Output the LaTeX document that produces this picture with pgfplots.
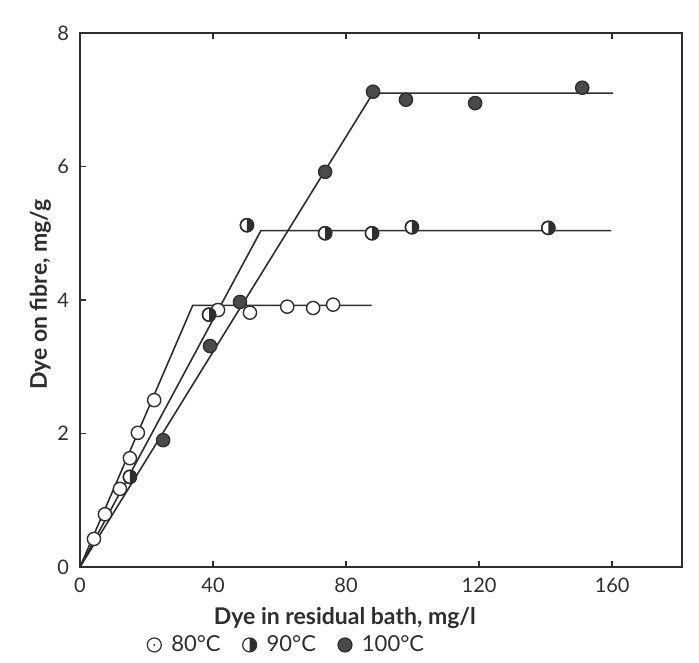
\documentclass[border=0pt]{standalone}
\usepackage{fontspec}
\setmainfont{Lato}
\usepackage{pgfplots}
\pgfplotsset{compat=1.18}
\definecolor{ink}{HTML}{2E2E2E}
\definecolor{dark}{HTML}{4A4A4A}
\pgfdeclareplotmark{halfright}{%
  \pgfpathmoveto{\pgfqpoint{0pt}{\pgfplotmarksize}}%
  \pgfpatharc{90}{-90}{\pgfplotmarksize}%
  \pgfpathclose
  \pgfusepathqfill
  \pgfpathcircle{\pgfpointorigin}{\pgfplotmarksize}%
  \pgfusepathqstroke
}
\pgfdeclareplotmark{odot}{%
  \pgfpathcircle{\pgfpointorigin}{\pgfplotmarksize}%
  \pgfusepathqfillstroke
  \pgfpathcircle{\pgfpointorigin}{0.15\pgfplotmarksize}%
  \pgfsetfillcolor{ink}\pgfusepathqfill
}
\begin{document}
\begin{tikzpicture}
\begin{axis}[
  scale only axis, width=301pt, height=267pt,
  xmin=0, xmax=181, ymin=0, ymax=8,
  xtick={0,40,80,120,160}, ytick={0,2,4,6,8},
  xtick pos=both, ytick pos=left,
  tick align=inside, major tick length=3pt,
  axis line style={ink, line width=0.9pt},
  every tick/.style={ink, line width=0.7pt},
  tick label style={font=\fontsize{10}{12}\selectfont, text=ink},
  /pgf/number format/assume math mode=true,
  xticklabel style={yshift=-2pt},
  yticklabel style={xshift=-2pt},
  xlabel={Dye in residual bath, mg/l},
  ylabel={Dye on fibre, mg/g},
  label style={font=\fontsize{11.5}{13}\selectfont\bfseries, text=ink},
  xlabel style={at={(axis description cs:0.44,-0.095)}, anchor=center},
  ylabel style={at={(axis description cs:-0.066,0.51)}, anchor=center},
  legend columns=3,
  legend style={draw=none, fill=none, at={(0.345,-0.146)}, anchor=center,
    font=\fontsize{11}{13}\selectfont, text=ink,
    /tikz/every odd column/.append style={column sep=3pt},
    /tikz/every even column/.append style={column sep=9pt}},
  legend cell align=left,
  clip=false,
]
% fitted lines
\addplot[ink, line width=0.8pt, forget plot] coordinates {(0,0) (33.9,3.92) (87.7,3.92)};
\addplot[ink, line width=0.8pt, forget plot] coordinates {(0,0) (54.4,5.04) (159.7,5.04)};
\addplot[ink, line width=0.8pt, forget plot] coordinates {(0,0) (88.1,7.1) (160.3,7.1)};
% 80 C
\addplot[only marks, mark=*, mark size=3.3pt, mark options={draw=ink, fill=white, line width=0.7pt}, forget plot] coordinates {
(4.2,0.42) (7.5,0.79) (12.0,1.17) (15.0,1.63) (17.4,2.01) (22.3,2.50)
(41.5,3.85) (51.1,3.81) (62.3,3.90) (70.1,3.88) (76.1,3.93)};
% 90 C
\addplot[only marks, mark=*, mark size=3.3pt, mark options={draw=ink, fill=white, line width=0.7pt}, forget plot] coordinates {
(15.0,1.35) (38.8,3.78) (50.2,5.12) (73.7,5.00) (87.8,5.00) (99.8,5.09) (140.8,5.08)};
\addplot[only marks, mark=halfright, mark size=3.3pt, mark options={draw=ink, fill=ink, line width=0.7pt}, forget plot] coordinates {
(15.0,1.35) (38.8,3.78) (50.2,5.12) (73.7,5.00) (87.8,5.00) (99.8,5.09) (140.8,5.08)};
% 100 C
\addplot[only marks, mark=*, mark size=3.3pt, mark options={draw=ink, fill=dark, line width=0.7pt}, forget plot] coordinates {
(25.0,1.90) (39.1,3.31) (48.1,3.97) (73.7,5.92) (88.1,7.12) (98.0,7.00) (118.8,6.95) (151.0,7.18)};
% legend
\addlegendimage{only marks, mark=odot, mark size=3.5pt, mark options={draw=ink, fill=white, line width=0.6pt}}
\addlegendentry{80°C}
\addlegendimage{only marks, mark=halfright, mark size=3.5pt, mark options={draw=ink, fill=ink, line width=0.6pt}}
\addlegendentry{90°C}
\addlegendimage{only marks, mark=*, mark size=3.5pt, mark options={draw=ink, fill=dark, line width=0.6pt}}
\addlegendentry{100°C}
\end{axis}
\useasboundingbox ([xshift=-40pt,yshift=-47.5pt]current axis.south west) rectangle ([xshift=8.5pt,yshift=16.5pt]current axis.north east);
\end{tikzpicture}
\end{document}
